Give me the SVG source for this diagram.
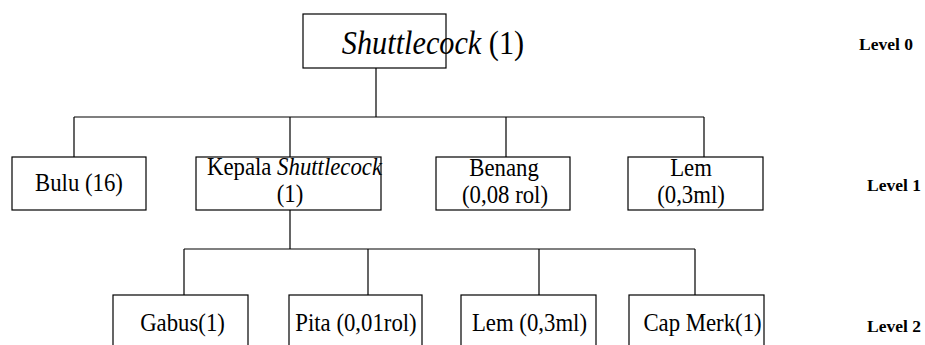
<svg xmlns="http://www.w3.org/2000/svg" width="925" height="345" viewBox="0 0 925 345">
<style>
.box{fill:#fff;stroke:#000;stroke-width:1.2}
.ln{fill:none;stroke:#000;stroke-width:1.2}
text{fill:#000}
.t{font-size:24.5px;text-anchor:middle}
.big{font-size:34px;text-anchor:middle}
.lv{font-size:17.5px;font-weight:bold}
.i{font-style:italic}
</style>
<rect width="925" height="345" fill="#fff"/>
<g id="connectors">
<path class="ln" d="M376 68V117M74 117H704M74 117V157M290 117V157M506 117V157M704 117V157"/>
<path class="ln" d="M290 210V249M184 249H695M184 249V295M368 249V295M539 249V295M695 249V295"/>
</g>
<g font-family="'Liberation Serif', 'DejaVu Serif', 'Times New Roman', serif">
<g id="n0"><rect class="box" x="303" y="14" width="143" height="54"/><text class="big" transform="translate(433,54) scale(0.89,1)"><tspan class="i">Shuttlecock</tspan> (1)</text></g>
<g id="n1"><rect class="box" x="12" y="157" width="134" height="53"/><text class="t" transform="translate(79,191) scale(0.93,1)">Bulu (16)</text></g>
<g id="n2"><rect class="box" x="196" y="157" width="185" height="53"/><text class="t" transform="translate(294.5,175) scale(0.93,1)">Kepala <tspan class="i">Shuttlecock</tspan></text><text class="t" transform="translate(290,202) scale(0.93,1)">(1)</text></g>
<g id="n3"><rect class="box" x="436" y="157" width="134" height="53"/><text class="t" transform="translate(504,176) scale(0.93,1)">Benang</text><text class="t" transform="translate(505,203) scale(0.93,1)">(0,08 rol)</text></g>
<g id="n4"><rect class="box" x="628" y="157" width="135" height="53"/><text class="t" transform="translate(691,176) scale(0.93,1)">Lem</text><text class="t" transform="translate(691,203) scale(0.93,1)">(0,3ml)</text></g>
<g id="n5"><rect class="box" x="113" y="295" width="135" height="60"/><text class="t" transform="translate(182.5,331) scale(0.93,1)">Gabus(1)</text></g>
<g id="n6"><rect class="box" x="289" y="295" width="133" height="60"/><text class="t" transform="translate(356,331) scale(0.93,1)">Pita (0,01rol)</text></g>
<g id="n7"><rect class="box" x="461" y="295" width="135" height="60"/><text class="t" transform="translate(529.5,331) scale(0.93,1)">Lem (0,3ml)</text></g>
<g id="n8"><rect class="box" x="629" y="295" width="135" height="60"/><text class="t" transform="translate(702.5,331) scale(0.93,1)">Cap Merk(1)</text></g>
<text class="lv" x="859" y="50">Level 0</text>
<text class="lv" x="867" y="191">Level 1</text>
<text class="lv" x="867" y="332">Level 2</text>
</g>
</svg>
